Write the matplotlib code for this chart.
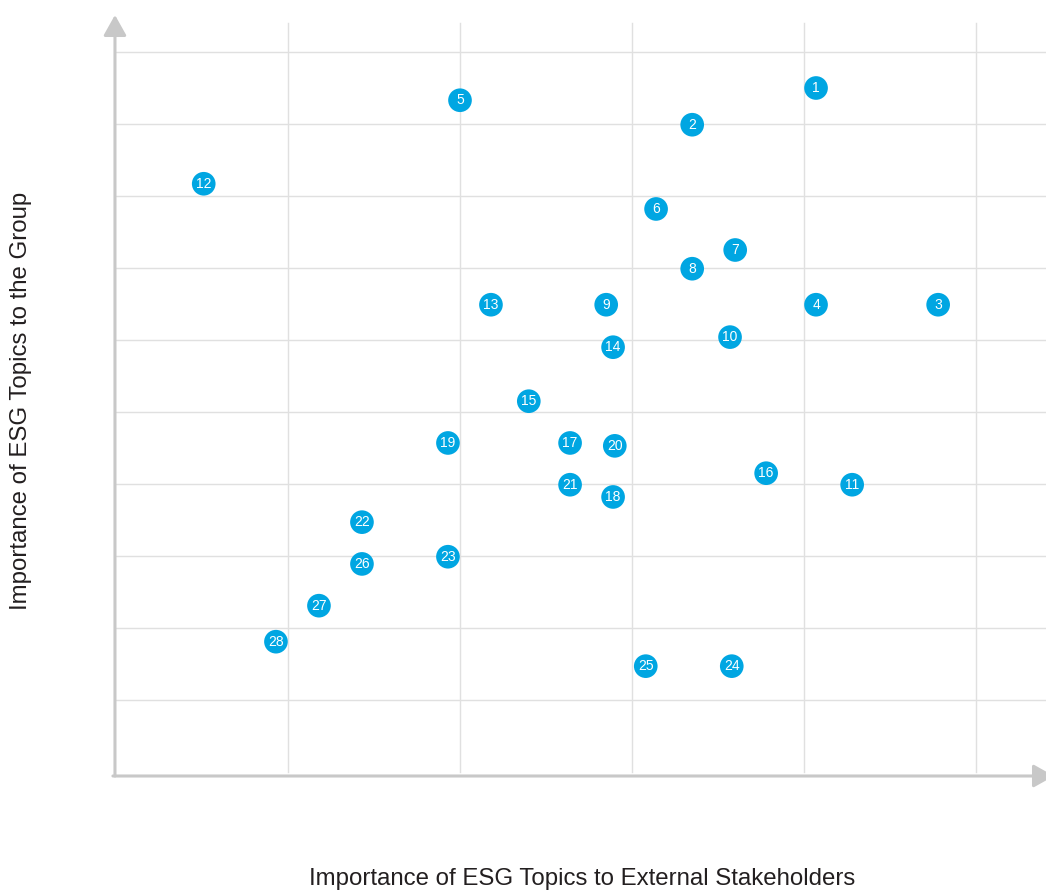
import matplotlib
matplotlib.use("Agg")
import matplotlib.pyplot as plt

topics = [str(i) for i in range(1, 29)]
ext_importance = [4.07, 3.35, 4.78, 4.07, 2.00, 3.14, 3.60, 3.35, 2.85, 3.57,
                  4.28, 0.51, 2.18, 2.89, 2.40, 3.78, 2.64, 2.89, 1.93, 2.90,
                  2.64, 1.43, 1.93, 3.58, 3.08, 1.43, 1.18, 0.93]
group_importance = [9.50, 8.99, 6.49, 6.49, 9.33, 7.82, 7.25, 6.99, 6.49, 6.04,
                    3.99, 8.17, 6.49, 5.90, 5.15, 4.15, 4.57, 3.82, 4.57, 4.53,
                    3.99, 3.47, 2.99, 1.47, 1.47, 2.89, 2.31, 1.81]
x_grid = [1, 2, 3, 4, 5]
y_grid = [1, 2, 3, 4, 5, 6, 7, 8, 9, 10]

W, H = 1046, 892
fig = plt.figure(figsize=(W / 100, H / 100), dpi=100)
x0, x1 = 116, 1046
yb, yt = 776, 15
ax = fig.add_axes([x0 / W, (H - yb) / H, (x1 - x0) / W, (yb - yt) / H])
ax.set_xlim(0, (x1 - x0) / 172.0)
ax.set_ylim(-(776 - 772) / 72.0, (772 - yt) / 72.0)
for s in ax.spines.values():
    s.set_visible(False)
ax.set_xticks([])
ax.set_yticks([])

grid_c = "#e0e0e0"
ytop_grid = (772 - 23) / 72.0
for gx in x_grid:
    ax.plot([gx, gx], [0, ytop_grid], color=grid_c, lw=1.0, zorder=1)
for gy in y_grid:
    ax.plot([0, (x1 - x0) / 172.0], [gy, gy], color=grid_c, lw=1.0, zorder=1)

axis_c = "#c8c8c8"
ylo = -(776 - 772) / 72.0
ap = dict(arrowstyle="-|>,head_length=1.25,head_width=0.7", color=axis_c,
          lw=2.2, shrinkA=0, shrinkB=0, mutation_scale=10)
ax.annotate("", xy=(-0.006, (772 - 15) / 72.0), xytext=(-0.006, ylo),
            arrowprops=ap, annotation_clip=False, zorder=2)
ax.annotate("", xy=((1054 - x0) / 172.0, ylo), xytext=(-0.018, ylo),
            arrowprops=ap, annotation_clip=False, zorder=2)

ax.scatter(ext_importance, group_importance, s=290, color="#00a6e2",
           edgecolors="none", zorder=3, clip_on=False)
for t, xv, yv in zip(topics, ext_importance, group_importance):
    ax.text(xv, yv, t, color="white", fontsize=10, ha="center", va="center",
            family="Liberation Sans", zorder=4)

fig.text(582 / W, 1 - 879 / H, "Importance of ESG Topics to External Stakeholders",
         ha="center", va="center", fontsize=17.3, color="#231f20",
         family="Liberation Sans")
fig.text(21 / W, 1 - 401 / H, "Importance of ESG Topics to the Group",
         ha="center", va="center", rotation=90, fontsize=17.3, color="#231f20",
         family="Liberation Sans")

fig.savefig("out.png", dpi=100)
